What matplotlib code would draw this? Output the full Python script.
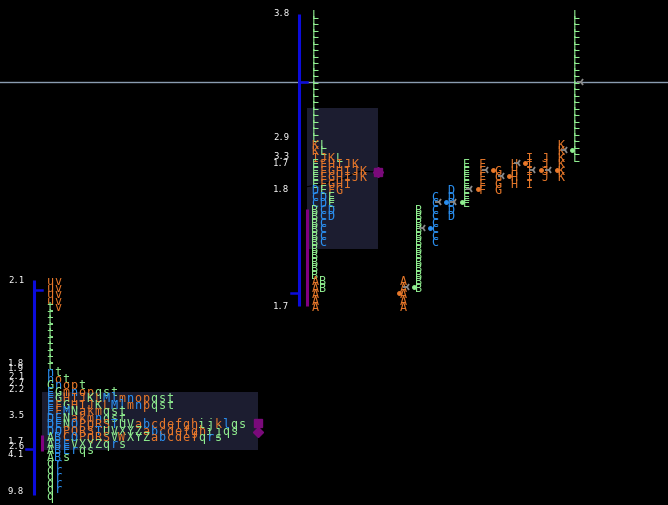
import matplotlib.pyplot as plt
from matplotlib.patches import Rectangle

# prices are in ticks; one tick = one TPO row
mid_letters = list("ABCDEFGHIJKL")
mid_low = [0, 3, 10, 14, 16, 18, 18, 19, 19, 20, 20, 23]
mid_high = [4, 15, 17, 18, 22, 22, 21, 22, 23, 23, 25, 45]
mid_open = [2, 3, 12, 16, 16, 18, 21, 20, 22, 21, 21, 24]
mid_close = [3, 12, 16, 16, 18, 21, 20, 22, 21, 21, 24, 34.5]

mid_va = (8.8, 30.5)
mid_ib = (0, 15)
mid_poc = 20.7
mid_vwap = [18.4, 18.9, 19.6, 20.8, 20.7]
mid_label_prices = [45, 26, 23, 22, 18, 0]
mid_labels = ["3.8", "2.9", "3.3", "1.7", "1.8", "1.7"]

# previous session, printed row by row from its top price
left_top = 4
left_rows = ["uv", "uv", "uv", "uv", "tv", "t", "t", "t", "t", "t", "t", "t", "t", "t",
             "nt", "not", "Gnopt", "EGmnopqst", "EGHIJKLMlmnopqst", "EFGHIJKLMlmnpqst",
             "EFMNakmqst", "DENakmnqst", "DENOPQRSTUVabcdefghijklqs",
             "DOPQRSTUVXYZabcdefghijqs", "ABCOPQRSVWXYZabcdefqrs", "ABEVXYZqrs",
             "ABErqs", "ABs", "qr", "qr", "qr", "qr", "qr", "q"]
left_open = -22
left_close = 2.5
left_va = (-22.1, -13.2)
left_ib = (-22.2, -19.8)
left_poc = -18
left_vwap = -19.3
left_label_prices = [4, -8.7, -9.6, -10.8, -11.8, -12.7, -16.8, -20.8, -21.5, -22.7, -28.5]
left_labels = ["2.1", "1.8", "1.9", "2.1", "2.7", "2.2", "3.5", "1.7", "2.6", "4.1", "9.8"]

last_price = 34.5

ORANGE, GREEN, BLUE = "#e8782a", "#90ee90", "#2a8ff0"
BAR_BLUE, PURPLE, VA_BG, GREY = "#0c0cdc", "#800080", "#1c1d30", "#8a8a8a"
mid_colors = {**{c: ORANGE for c in "AFGHIJK"}, **{c: GREEN for c in "BEL"},
              **{c: BLUE for c in "CD"}}
left_colors = {**{c: BLUE for c in "BDEMOTblnr"}, **{c: GREEN for c in "AGKNUVXYZijqst"}}
FONT = "DejaVu Sans Mono"
LETTER_SIZE = 8.5
COL_W = 8

fig = plt.figure(figsize=(6.68, 5.05), dpi=100, facecolor="black")
ax = fig.add_axes([0, 0, 1, 1])
ax.set_facecolor("black")
ax.set_xlim(0, 668)
ax.set_ylim(-30.54, 47.15)
ax.axis("off")

ax.axhline(last_price, color="#8a9cb0", lw=1, zorder=1)


def draw_session(rows, colors, x0, box_right, lo, hi, op, cl, ib, va, poc, vwap,
                 label_prices, labels):
    ax.add_patch(Rectangle((x0 - 8.5, va[0]), box_right - x0 + 8.5, va[1] - va[0],
                           color=VA_BG, zorder=0, lw=0))
    for p, s in rows:
        for i, ch in enumerate(s):
            ax.text(x0 + i * COL_W, p, ch, color=colors.get(ch, ORANGE), fontsize=LETTER_SIZE,
                    family=FONT, ha="center", va="center_baseline", zorder=3)
    bx = x0 - 16.5
    ax.plot([bx, bx], [lo, hi], color=BAR_BLUE, lw=2.2, solid_capstyle="butt", zorder=2)
    ax.plot([bx - 8, bx], [op, op], color=BAR_BLUE, lw=1.8, zorder=2)
    ax.plot([bx, bx + 8], [cl, cl], color=BAR_BLUE, lw=1.8, zorder=2)
    ax.plot([x0 - 8.5] * 2, ib, color=PURPLE, lw=2.2, solid_capstyle="butt", zorder=2)
    ax.plot(box_right, poc, marker="s", ms=5.5, color="#7a0a7a", zorder=4)
    ax.plot(box_right, vwap, marker="D", ms=5.5, color="#7a0a7a", zorder=4)
    for p, s in zip(label_prices, labels):
        ax.text(x0 - 42, p, s, color="white", fontsize=6.5, family=FONT,
                ha="left", va="center", zorder=3)


# previous session
lrows = [(left_top - r, s) for r, s in enumerate(left_rows)]
draw_session(lrows, left_colors, 50, 258, left_top - len(left_rows) + 1, left_top,
             left_open, left_close, left_ib, left_va, left_poc, left_vwap,
             left_label_prices, left_labels)

# current session, built from each period's range
mrows = []
for p in range(max(mid_high), min(mid_low) - 1, -1):
    s = "".join(l for l, lo, hi in zip(mid_letters, mid_low, mid_high) if lo <= p <= hi)
    mrows.append((p, s))
draw_session(mrows, mid_colors, 315, 378, min(mid_low), max(mid_high),
             mid_open[0], mid_close[-1], mid_ib, mid_va, mid_poc, mid_vwap[-1],
             mid_label_prices, mid_labels)
vx = [306 + i * 18 for i in range(len(mid_vwap))]
ax.plot(vx, mid_vwap, color="black", lw=0.8, zorder=1)

# one small profile per period
for k, l in enumerate(mid_letters):
    x = 403 + k * 15.8
    c = mid_colors[l]
    for p in range(mid_low[k], mid_high[k] + 1):
        ax.text(x, p, l, color=c, fontsize=LETTER_SIZE, family=FONT,
                ha="center", va="center_baseline", zorder=3)
    ax.plot(x - 4.5, mid_open[k], "o", ms=2.5, color=c, zorder=4)
    ax.plot(x + 4, mid_close[k], marker="3", ms=6, mew=1.3, color=GREY, zorder=4)

fig.savefig("out.png", dpi=100, facecolor="black")
